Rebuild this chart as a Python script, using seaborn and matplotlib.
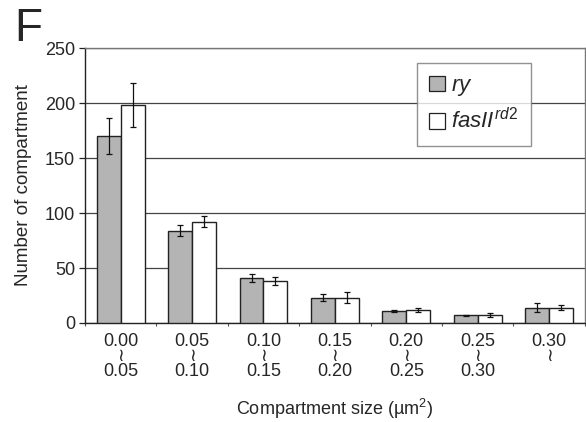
import matplotlib
matplotlib.use("Agg")
import matplotlib.pyplot as plt
import seaborn as sns
import pandas as pd
import numpy as np

categories = ["0.00\n≀\n0.05", "0.05\n≀\n0.10", "0.10\n≀\n0.15", "0.15\n≀\n0.20",
              "0.20\n≀\n0.25", "0.25\n≀\n0.30", "0.30\n≀\n"]
ry_values = [170, 84, 41, 23, 11, 7, 14]
ry_err = [16, 5, 3.5, 3, 1, 0.5, 4]
fas_values = [198, 92, 38, 23, 12, 7.5, 14]
fas_err = [20, 5, 3.5, 5, 2, 2, 2]
series_names = ["ry", "fasII"]

sns.set_theme(style="white")
plt.rcParams['font.family'] = ['Liberation Sans', 'DejaVu Sans']
plt.rcParams['mathtext.fontset'] = 'custom'
plt.rcParams['mathtext.it'] = 'Liberation Sans:italic'
plt.rcParams['mathtext.rm'] = 'Liberation Sans'

df = pd.DataFrame({
    "cat": categories * 2,
    "val": ry_values + fas_values,
    "err": ry_err + fas_err,
    "series": [series_names[0]] * len(categories) + [series_names[1]] * len(categories),
})

fig = plt.figure(figsize=(5.86, 4.22), dpi=100)
ax = fig.add_axes([0.145, 0.2346, 0.853, 0.6514])
sns.barplot(data=df, x="cat", y="val", hue="series", order=categories,
            hue_order=series_names, palette=["#b4b4b4", "#ffffff"],
            errorbar=None, width=0.67, edgecolor="#222222", linewidth=1.0,
            saturation=1, ax=ax, legend=False, zorder=3)

# error bars at bar centers
patches = ax.patches
n = len(categories)
for i, p in enumerate(patches[:2 * n]):
    s = 0 if i < n else 1
    j = i % n
    val = (ry_values if s == 0 else fas_values)[j]
    err = (ry_err if s == 0 else fas_err)[j]
    xc = p.get_x() + p.get_width() / 2
    ax.errorbar(xc, val, yerr=err, fmt="none", ecolor="#111111",
                elinewidth=0.9, capsize=2.2, capthick=0.9, zorder=4)

ax.set_ylim(0, 250)
ax.set_xlim(-0.5, n - 0.5)
ax.set_yticks([0, 50, 100, 150, 200, 250])
ax.yaxis.grid(True, color="#444444", linewidth=0.9)
ax.set_axisbelow(True)
for side in ["top", "right"]:
    ax.spines[side].set_color("#777777")
    ax.spines[side].set_linewidth(1.0)
for side in ["left", "bottom"]:
    ax.spines[side].set_color("#222222")
    ax.spines[side].set_linewidth(1.0)
ax.tick_params(axis="y", which="major", direction="out", length=4, width=0.9,
               color="#222222", labelsize=13, pad=3, left=True)
ax.tick_params(axis="x", which="major", length=0, labelsize=13, pad=7)
ax.set_xticks(np.arange(-0.5, n, 1.0), minor=True)
ax.tick_params(axis="x", which="minor", direction="out", length=2, width=0.8,
               color="#555555", bottom=True)
for lbl in ax.get_xticklabels():
    lbl.set_linespacing(0.85)

ax.set_xlabel("Compartment size (µm$^\\mathregular{2}$)", fontsize=13, labelpad=12)
ax.set_ylabel("Number of compartment", fontsize=13.5, labelpad=9)

from matplotlib.patches import Patch
handles = [Patch(facecolor="#b4b4b4", edgecolor="#222222", linewidth=0.9),
           Patch(facecolor="#ffffff", edgecolor="#222222", linewidth=0.9)]
labels = [r"$\it{ry}$", r"$\it{fasII}^{\it{rd2}}$"]
leg = ax.legend(handles, labels, loc="upper left", bbox_to_anchor=(0.664, 0.945),
                frameon=True, fancybox=False, fontsize=16, handlelength=0.7,
                handleheight=0.7, handletextpad=0.3, borderpad=0.55,
                labelspacing=0.45, borderaxespad=0)
leg.get_frame().set_edgecolor("#777777")
leg.get_frame().set_linewidth(1.0)
leg.set_zorder(5)

fig.text(0.025, 0.903, "F", fontsize=33, ha="left", va="baseline")

fig.savefig("out.png", dpi=100)
